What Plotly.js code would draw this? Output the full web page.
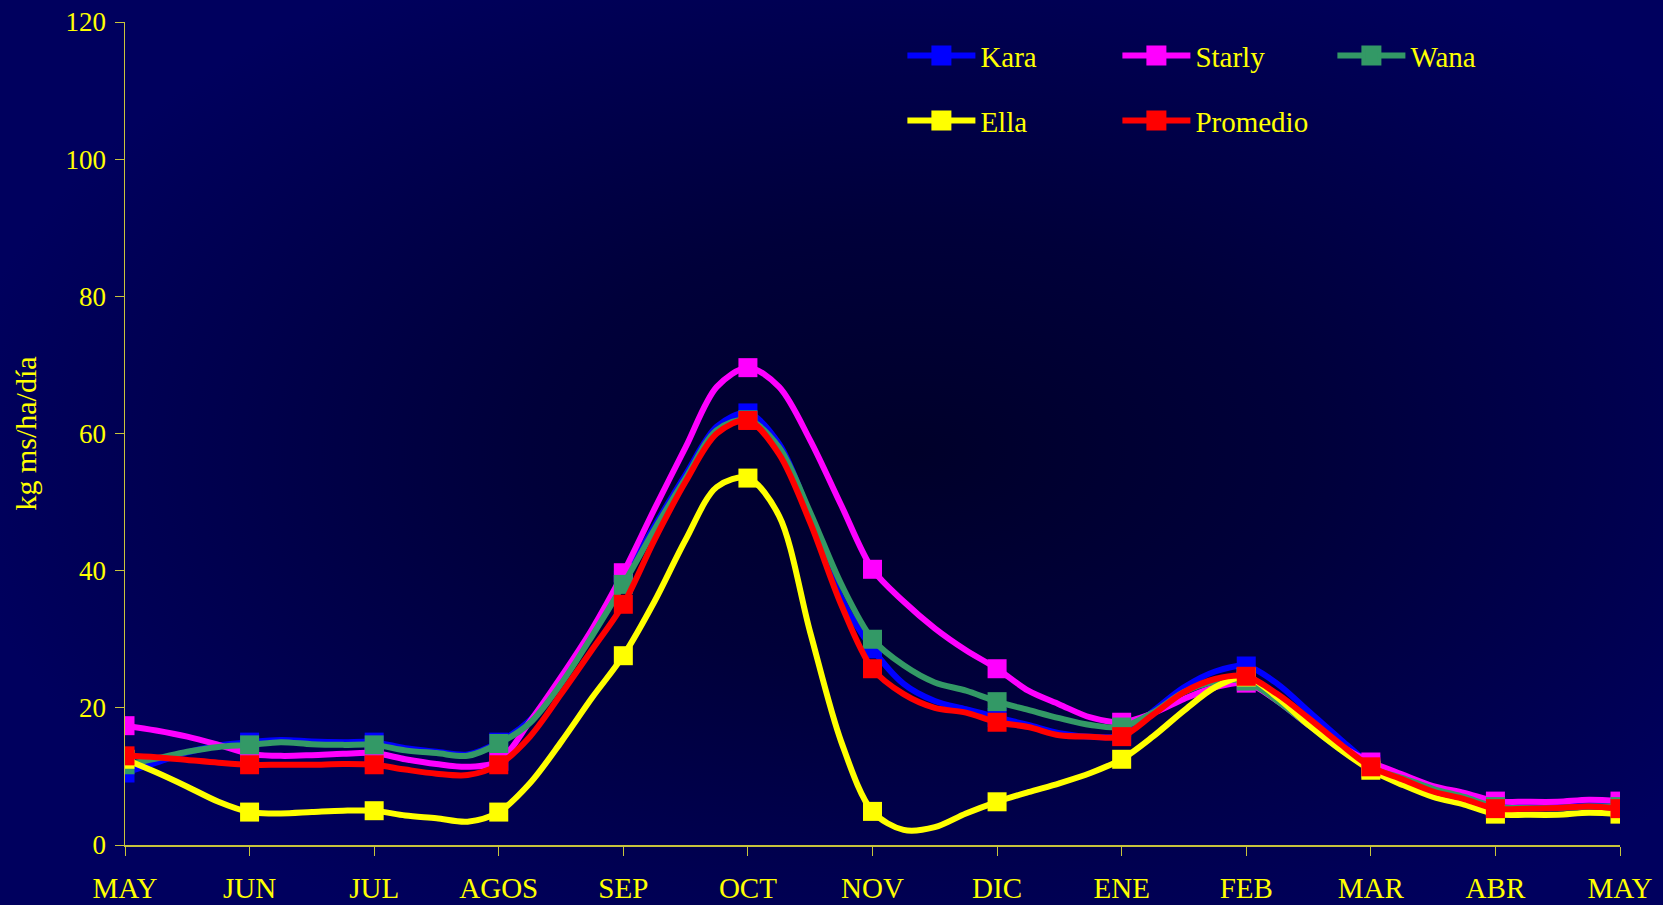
<!DOCTYPE html>
<html><head><meta charset="utf-8">
<script src="https://cdn.plot.ly/plotly-3.0.1.min.js"></script>
<style>
html,body{margin:0;padding:0;width:1663px;height:905px;overflow:hidden;}
body{background: radial-gradient(ellipse 58% 62% at 55% 50%, #00002a 0%, #00003a 40%, #00005e 100%);}
#chart{width:1663px;height:905px;}
</style></head><body><div id="chart"></div>
<script>
const monthLabels = ['MAY','JUN','JUL','AGOS','SEP','OCT','NOV','DIC','ENE','FEB','MAR','ABR','MAY'];
const monthTicks = [0,1,2,3,4,5,6,7,8,9,10,11,12];
const monthPos = [0,0.25,0.5,0.75,1,1.25,1.5,1.75,2,2.25,2.5,2.75,3,3.25,3.5,3.75,4,4.25,4.5,4.75,5,5.25,5.5,5.75,6,6.25,6.5,6.75,7,7.25,7.5,7.75,8,8.25,8.5,8.75,9,9.25,9.5,9.75,10,10.25,10.5,10.75,11,11.25,11.5,11.75,12];

const kara     = [10.5,12.0,13.5,14.5,15.0,15.3,15.1,15.0,15.0,14.1,13.6,13.2,15.0,18.2,24.0,31.0,38.6,46.5,54.0,61.0,63.0,58.5,48.0,36.0,28.6,23.5,21.0,19.8,18.6,17.5,16.3,15.8,16.0,19.5,23.0,25.3,26.1,23.5,19.5,15.5,11.8,10.0,8.4,7.2,5.8,5.6,5.6,5.8,5.8];
const starly   = [17.4,16.7,15.8,14.6,13.3,13.0,13.1,13.3,13.4,12.5,11.8,11.4,12.2,18.0,24.5,31.5,39.7,49.0,58.0,66.8,69.6,66.8,59.0,49.5,40.2,35.5,31.6,28.4,25.7,22.5,20.5,18.6,17.9,19.2,21.3,23.0,23.6,21.0,17.5,14.5,12.1,10.3,8.6,7.6,6.4,6.3,6.3,6.6,6.4];
const wana     = [11.7,12.6,13.6,14.3,14.6,15.0,14.7,14.6,14.6,13.8,13.4,13.0,14.8,17.8,23.5,30.5,38.0,46.0,53.5,60.5,62.0,58.0,48.5,38.0,30.0,26.2,23.7,22.5,20.9,19.7,18.5,17.5,17.2,19.3,22.3,23.8,23.9,21.0,17.5,14.0,11.2,9.8,8.2,7.0,5.6,5.4,5.4,5.6,5.6];
const ella     = [12.5,10.6,8.5,6.3,4.8,4.6,4.8,5.0,5.0,4.3,3.9,3.4,4.8,9.0,15.0,21.5,27.6,35.5,44.5,52.2,53.5,48.0,31.0,15.0,4.9,2.2,2.6,4.6,6.3,7.7,9.0,10.5,12.5,15.8,19.6,23.0,24.5,21.5,17.5,14.0,10.9,8.8,7.0,5.9,4.5,4.4,4.4,4.7,4.5];
const promedio = [13.0,12.8,12.4,12.0,11.7,11.7,11.7,11.8,11.7,11.0,10.4,10.2,11.7,15.8,22.0,28.5,35.1,44.5,53.0,60.0,61.9,57.0,47.0,35.0,25.7,22.0,20.0,19.3,17.9,17.2,16.0,15.8,15.8,19.0,22.3,24.2,24.6,22.0,18.5,14.8,11.4,9.6,7.8,6.7,5.3,5.3,5.4,5.6,5.3];

const seriesNames  = ['Kara','Starly','Wana','Ella','Promedio'];
const seriesValues = [kara, starly, wana, ella, promedio];
const seriesColors = ['#0000FF','#FF00FF','#339966','#FFFF00','#FF0000'];
const legendOf     = ['legend','legend','legend','legend2','legend2'];

const FONT = "'Liberation Serif','Times New Roman',serif";
const TXT = '#FFFF00';
const AXC = '#c8c43c';
const MS = 19, LW = 6;

const markerSizes = monthPos.map(p => Number.isInteger(p) ? MS : 0);

const traces = [];
seriesNames.forEach((n, i) => {
  traces.push({
    type: 'scatter', mode: 'lines+markers', name: n, showlegend: false,
    x: monthPos, y: seriesValues[i],
    line: {color: seriesColors[i], width: LW, shape: 'spline', smoothing: 0.9},
    marker: {color: seriesColors[i], symbol: 'square', size: markerSizes, opacity: 1, line: {width: 0}},
    hoverinfo: 'skip'
  });
});
seriesNames.forEach((n, i) => {
  traces.push({
    type: 'scatter', mode: 'lines+markers', name: n, showlegend: true, legend: legendOf[i],
    x: [null], y: [null],
    line: {color: seriesColors[i], width: LW},
    marker: {color: seriesColors[i], symbol: 'square', size: 16, opacity: 1, line: {width: 4, color: seriesColors[i]}}
  });
});

const legendBase = {
  orientation: 'h', xanchor: 'left', yanchor: 'top',
  bgcolor: 'rgba(0,0,0,0)', borderwidth: 0, entrywidth: 132, entrywidthmode: 'pixels',
  itemwidth: 68,
  font: {family: FONT, color: TXT, size: 29}, traceorder: 'normal'
};

const layout = {
  width: 1663, height: 905,
  paper_bgcolor: 'rgba(0,0,0,0)', plot_bgcolor: 'rgba(0,0,0,0)',
  margin: {l: 125, r: 43, t: 22, b: 60},
  font: {family: FONT, color: TXT, size: 27},
  showlegend: true,
  xaxis: {
    range: [0, 12], tickmode: 'array', tickvals: monthTicks, ticktext: monthLabels,
    showline: true, linecolor: AXC, linewidth: 1.5, ticks: 'outside', ticklen: 9, tickcolor: AXC, tickwidth: 1,
    showgrid: false, zeroline: false, ticklabelstandoff: 8,
    tickfont: {family: FONT, color: TXT, size: 29}
  },
  xaxis2: {
    overlaying: 'x', anchor: 'y', range: [0, 12], tickmode: 'array', tickvals: monthTicks,
    showticklabels: false, ticks: 'inside', ticklen: 9, tickcolor: AXC, tickwidth: 1,
    showline: false, showgrid: false, zeroline: false
  },
  yaxis: {
    range: [0, 120], tickmode: 'linear', tick0: 0, dtick: 20,
    showline: true, linecolor: AXC, linewidth: 1.5, ticks: 'outside', ticklen: 9, tickcolor: AXC, tickwidth: 1,
    showgrid: false, zeroline: false, ticklabelstandoff: 3,
    tickfont: {family: FONT, color: TXT, size: 27},
    title: {text: 'kg ms/ha/día', font: {family: FONT, color: TXT, size: 30}, standoff: 20}
  },
  yaxis2: {
    overlaying: 'y', anchor: 'x', range: [0, 120], tickmode: 'linear', tick0: 0, dtick: 20,
    showticklabels: false, ticks: 'inside', ticklen: 9, tickcolor: AXC, tickwidth: 1,
    showline: false, showgrid: false, zeroline: false
  },
  legend: Object.assign({}, legendBase, {x: 0.52, y: 0.99}),
  legend2: Object.assign({}, legendBase, {x: 0.52, y: 0.911})
};

Plotly.newPlot('chart', traces, layout, {displayModeBar: false, staticPlot: true});
</script></body></html>
